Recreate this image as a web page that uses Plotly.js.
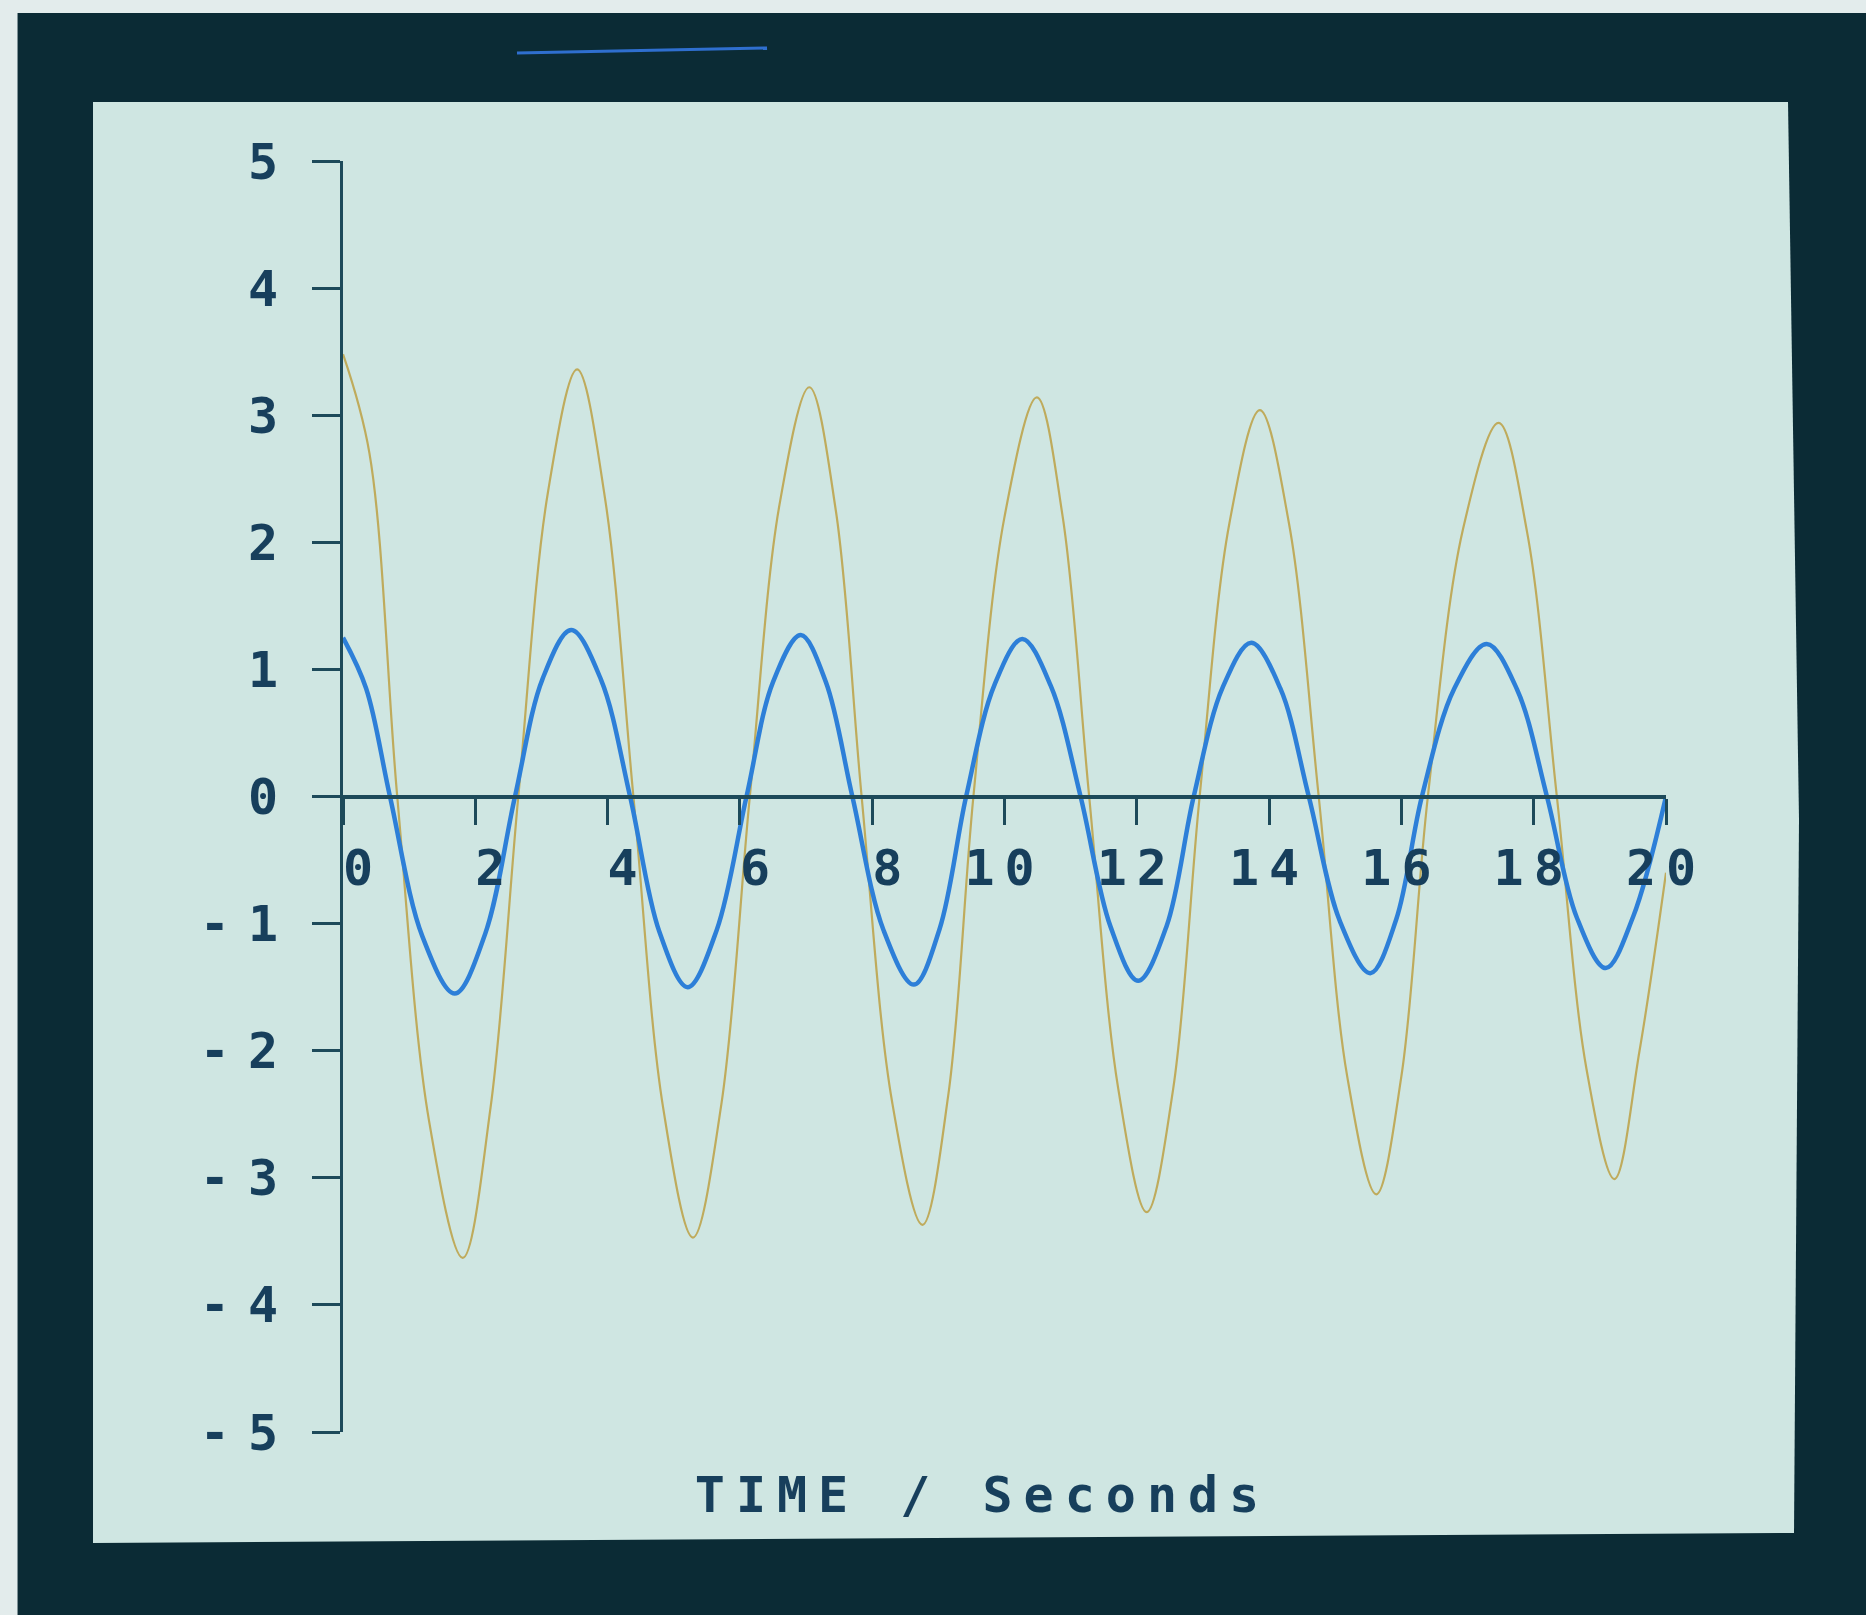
<!DOCTYPE html>
<html>
<head>
<meta charset="utf-8">
<script src="https://cdn.plot.ly/plotly-3.0.1.min.js"></script>
<style>
  html, body { margin: 0; padding: 0; background: #e3ecec; }
  #chart { width: 1866px; height: 1615px; }
  .xtick text { letter-spacing: 10px; }
  .ytick text { letter-spacing: 18px; }
  .xtitle { letter-spacing: 11px; transform: translate(-22px, 0px); }
</style>
</head>
<body>
<div id="chart"></div>
<script>
// ---- data ----
const blueTime = [0, 0.35, 0.71, 1.2, 1.69, 2.15, 2.6, 3.02, 3.45, 3.9, 4.34, 4.78, 5.21, 5.65, 6.1, 6.5, 6.92, 7.3, 7.7, 8.17, 8.63, 9.02, 9.42, 9.85, 10.27, 10.7, 11.15, 11.6, 12.02, 12.45, 12.86, 13.3, 13.73, 14.17, 14.6, 15.07, 15.53, 15.92, 16.31, 16.8, 17.29, 17.75, 18.2, 18.65, 19.09, 19.5, 20];
const blueValue = [1.25, 0.85, 0, -1.1, -1.55, -1.08, 0, 0.93, 1.31, 0.92, 0, -1.06, -1.5, -1.05, 0, 0.9, 1.27, 0.9, 0, -1.05, -1.48, -1.04, 0, 0.88, 1.24, 0.87, 0, -1.02, -1.45, -1.02, 0, 0.86, 1.21, 0.85, 0, -0.98, -1.39, -0.97, 0, 0.85, 1.2, 0.84, 0, -0.95, -1.35, -0.95, 0];

const orangeTime = [0, 0.4, 0.82, 1.3, 1.81, 2.23, 2.65, 3.1, 3.54, 3.96, 4.39, 4.84, 5.29, 5.72, 6.15, 6.6, 7.05, 7.45, 7.84, 8.3, 8.76, 9.15, 9.53, 10.0, 10.49, 10.88, 11.28, 11.72, 12.15, 12.55, 12.95, 13.4, 13.86, 14.3, 14.75, 15.18, 15.62, 16.0, 16.4, 16.93, 17.47, 17.9, 18.35, 18.8, 19.22, 19.6, 20];
const orangeValue = [3.48, 2.7, 0, -2.55, -3.63, -2.45, 0, 2.4, 3.36, 2.35, 0, -2.45, -3.47, -2.42, 0, 2.3, 3.22, 2.25, 0, -2.4, -3.37, -2.35, 0, 2.2, 3.14, 2.2, 0, -2.3, -3.27, -2.3, 0, 2.15, 3.04, 2.15, 0, -2.2, -3.13, -2.2, 0, 2.1, 2.94, 2.08, 0, -2.15, -3.01, -2.0, -0.6];

const xTickValues = [0, 2, 4, 6, 8, 10, 12, 14, 16, 18, 20];
const xTickLabels = ["\u00a00", "\u00a02", "\u00a04", "\u00a06", "\u00a08", "10", "12", "14", "16", "18", "20"];
const yTickValues = [-5, -4, -3, -2, -1, 0, 1, 2, 3, 4, 5];
const yTickLabels = ["-5", "-4", "-3", "-2", "-1", "0", "1", "2", "3", "4", "5"];
const xTitle = "TIME / Seconds";

// ---- styling ----
const FONT = "DejaVu Sans Mono, Liberation Mono, monospace";
const INK = "#173f5c";
const AXIS = "#1d4a5a";

const traces = [
  {
    x: orangeTime, y: orangeValue, type: "scatter", mode: "lines",
    line: { color: "#bfab5c", width: 2.2, shape: "spline", smoothing: 1 },
    showlegend: false, hoverinfo: "skip"
  },
  {
    x: blueTime, y: blueValue, type: "scatter", mode: "lines",
    line: { color: "#2d7fd8", width: 4.5, shape: "spline", smoothing: 1 },
    showlegend: false, hoverinfo: "skip"
  }
];

const layout = {
  width: 1866, height: 1615, autosize: false,
  margin: { l: 343, r: 200, t: 161, b: 183, pad: 0 },
  paper_bgcolor: "#e3ecec",
  plot_bgcolor: "rgba(0,0,0,0)",
  showlegend: false,
  xaxis: {
    range: [0, 20], anchor: "free", position: 0.5,
    showline: true, linecolor: AXIS, linewidth: 4,
    ticks: "outside", ticklen: 26, tickwidth: 3, tickcolor: AXIS,
    tickmode: "array", tickvals: xTickValues, ticktext: xTickLabels,
    tickfont: { family: FONT, size: 50, color: INK, weight: "bold" },
    ticklabelstandoff: 0,
    showgrid: false, zeroline: false, fixedrange: true,
    title: { text: xTitle, font: { family: FONT, size: 50, color: INK, weight: "bold" }, standoff: 580 }
  },
  yaxis: {
    range: [-5, 5],
    showline: true, linecolor: AXIS, linewidth: 3,
    ticks: "outside", ticklen: 28, tickwidth: 3, tickcolor: AXIS,
    tickmode: "array", tickvals: yTickValues, ticktext: yTickLabels,
    tickfont: { family: FONT, size: 50, color: INK, weight: "bold" },
    ticklabelstandoff: 6,
    showgrid: false, zeroline: false, fixedrange: true
  },
  shapes: [
    { type: "rect", xref: "paper", yref: "paper", layer: "below",
      x0: -0.246, x1: 1.2, y0: -0.2, y1: 1.1165,
      fillcolor: "#0b2b35", line: { width: 0 } },
    { type: "path", xref: "paper", yref: "paper", layer: "below",
      path: "M -0.18896,1.04642 L 1.09222,1.04642 L 1.10053,0.48151 L 1.09675,-0.07946 L -0.18896,-0.08733 Z",
      fillcolor: "#cfe6e2", line: { width: 0 } },
    { type: "line", xref: "paper", yref: "paper", layer: "below",
      x0: 0.1315, y0: 1.0850, x1: 0.3205, y1: 1.0889,
      line: { color: "#2f6fcf", width: 3 } }
  ]
};

Plotly.newPlot("chart", traces, layout, { displayModeBar: false, staticPlot: true });
</script>
</body>
</html>
